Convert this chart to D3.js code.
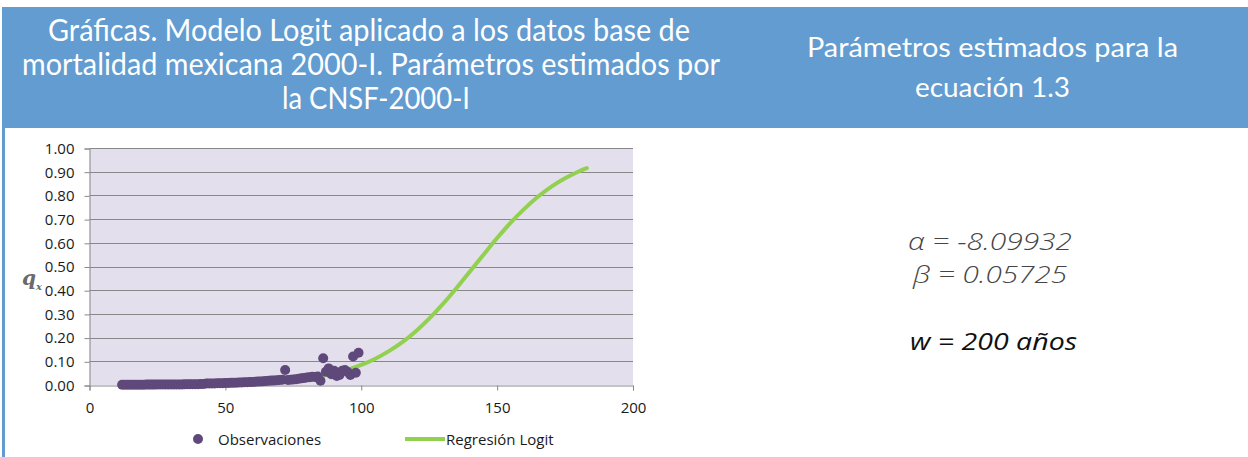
<!DOCTYPE html>
<html>
<head>
<meta charset="utf-8">
<script src="https://cdn.jsdelivr.net/npm/d3@7"></script>
<style>
  body { margin: 0; background: #fff; }
  svg { display: block; }
</style>
</head>
<body>
<div id="app"></div>
<script>
// edades observadas (12..99) y q_x observada
const obsAges = d3.range(12, 100);
const obsQx = [
  0.0008, 0.0008, 0.0009, 0.0010, 0.0011, 0.0012, 0.0013, 0.0014, 0.0015,
  0.0016, 0.0016, 0.0017, 0.0017, 0.0018, 0.0018, 0.0019, 0.0019, 0.0020,
  0.0021, 0.0022, 0.0023, 0.0024, 0.0025, 0.0027, 0.0028, 0.0030, 0.0032, 0.0034,
  0.0036, 0.0039, 0.0042, 0.0060, 0.0062, 0.0065, 0.0068, 0.0071, 0.0074, 0.0078,
  0.0082, 0.0086, 0.0090, 0.0094, 0.0098, 0.0103, 0.0108, 0.0113, 0.0119, 0.0125,
  0.0131, 0.0138, 0.0145, 0.0152, 0.0160, 0.0168, 0.0176, 0.0185, 0.0194, 0.0203,
  0.0212, 0.0220, 0.0630, 0.0215, 0.0225, 0.0235, 0.0245, 0.0260, 0.0280, 0.0300,
  0.0320, 0.0330, 0.0350, 0.0340, 0.0360, 0.0180, 0.1130, 0.0560, 0.0700, 0.0450,
  0.0600, 0.0380, 0.0420, 0.0600, 0.0630, 0.0550, 0.0420, 0.1200, 0.0520, 0.1360
];

// curva logit
const fitAges = [12, 20, 30, 40, 50, 60, 70, 80, 85, 90, 95, 100, 105, 110, 115, 120,
  125, 130, 135, 140, 145, 150, 155, 160, 165, 170, 175, 180, 183];
const fitQx = [0.0006, 0.001, 0.0017, 0.003, 0.0053, 0.0093, 0.0164, 0.029, 0.038, 0.050,
  0.065, 0.085, 0.110, 0.142, 0.180, 0.226, 0.280, 0.341, 0.408, 0.479, 0.550, 0.620,
  0.685, 0.743, 0.794, 0.837, 0.872, 0.901, 0.915];

const xTicks = [0, 50, 100, 150, 200];
const yTicks = d3.range(0, 1.0001, 0.1);

const titleLeft = [
  "Gráficas.  Modelo Logit aplicado a los datos base de",
  "mortalidad mexicana 2000-I. Parámetros estimados por",
  "la CNSF-2000-I"
];
const titleRight = ["Parámetros estimados para la", "ecuación 1.3"];
const paramLines = ["α = -8.09932", "β = 0.05725", "w = 200 años"];

const W = 1248, H = 457;
const svg = d3.select("#app").append("svg")
  .attr("width", W)
  .attr("height", H);

// cabecera azul
svg.append("rect")
  .attr("x", 2).attr("y", 7)
  .attr("width", W - 2).attr("height", 121)
  .attr("fill", "#629cd0");
svg.append("rect")
  .attr("x", 2).attr("y", 7)
  .attr("width", 3).attr("height", H - 7)
  .attr("fill", "#629cd0");

const leftPos = [[48, 41, 642], [22, 75, 698], [282, 109, 188]];
titleLeft.forEach((t, i) => {
  svg.append("text")
    .attr("x", leftPos[i][0]).attr("y", leftPos[i][1])
    .attr("textLength", leftPos[i][2])
    .attr("lengthAdjust", "spacingAndGlyphs")
    .attr("fill", "#fff")
    .style("font-family", "Lato, sans-serif")
    .style("font-weight", 400)
    .style("font-size", "30px")
    .text(t);
});
const rightPos = [[807, 57, 371], [915, 97, 155]];
titleRight.forEach((t, i) => {
  svg.append("text")
    .attr("x", rightPos[i][0]).attr("y", rightPos[i][1])
    .attr("textLength", rightPos[i][2])
    .attr("lengthAdjust", "spacingAndGlyphs")
    .attr("fill", "#fff")
    .style("font-family", "Lato, sans-serif")
    .style("font-weight", 400)
    .style("font-size", "27px")
    .text(t);
});

// grafico
const x = d3.scaleLinear().domain([0, 200]).range([89.5, 633]);
const y = d3.scaleLinear().domain([0, 1]).range([385, 148]);
const grid = "#888888";

svg.append("rect")
  .attr("x", x(0)).attr("y", y(1))
  .attr("width", x(200) - x(0)).attr("height", y(0) - y(1))
  .attr("fill", "#e4dfec");

svg.append("g")
  .selectAll("line")
  .data(yTicks.slice(1))
  .enter().append("line")
  .attr("x1", x(0)).attr("x2", x(200))
  .attr("y1", d => Math.round(y(d)) + 0.5).attr("y2", d => Math.round(y(d)) + 0.5)
  .attr("stroke", grid);

const yAxis = svg.append("g")
  .attr("transform", `translate(${x(0)},0.5)`)
  .call(d3.axisLeft(y).tickValues(yTicks).tickFormat(d3.format(".2f")).tickSize(5).tickPadding(10));
const xAxis = svg.append("g")
  .attr("transform", `translate(0,${y(0) + 0.5})`)
  .call(d3.axisBottom(x).tickValues(xTicks).tickSize(5).tickPadding(12));

[yAxis, xAxis].forEach(a => {
  a.select(".domain").attr("stroke", grid);
  a.selectAll(".tick line").attr("stroke", grid);
  a.selectAll("text")
    .attr("fill", "#1a1a1a")
    .style("font-family", "'Open Sans', sans-serif")
    .style("font-size", "15px");
});

// curva
const line = d3.line()
  .x((d, i) => x(fitAges[i]))
  .y(d => y(d))
  .curve(d3.curveCatmullRom);
svg.append("path")
  .datum(fitQx)
  .attr("fill", "none")
  .attr("stroke", "#92d050")
  .attr("stroke-width", 4)
  .attr("stroke-linecap", "round")
  .attr("d", line);

// observaciones
svg.append("g")
  .selectAll("circle")
  .data(obsQx)
  .enter().append("circle")
  .attr("cx", (d, i) => x(obsAges[i]))
  .attr("cy", d => y(d))
  .attr("r", 5)
  .attr("fill", "#5f497a");

// etiqueta eje y
const ql = svg.append("text")
  .attr("x", 22).attr("y", 285)
  .attr("fill", "#6a6a6a")
  .style("font-family", "'DejaVu Serif', serif")
  .style("font-style", "italic")
  .style("font-weight", "bold")
  .style("font-size", "20px")
  .text("q");
ql.append("tspan")
  .attr("dy", 5)
  .style("font-size", "10px")
  .text("x");

// leyenda
svg.append("circle")
  .attr("cx", 198).attr("cy", 439).attr("r", 5)
  .attr("fill", "#5f497a");
svg.append("text")
  .attr("x", 218).attr("y", 445)
  .attr("fill", "#1a1a1a")
  .style("font-family", "'Open Sans', sans-serif")
  .style("font-size", "15px")
  .text("Observaciones");
svg.append("line")
  .attr("x1", 405).attr("x2", 445)
  .attr("y1", 439).attr("y2", 439)
  .attr("stroke", "#92d050").attr("stroke-width", 4);
svg.append("text")
  .attr("x", 446).attr("y", 445)
  .attr("fill", "#1a1a1a")
  .style("font-family", "'Open Sans', sans-serif")
  .style("font-size", "15px")
  .text("Regresión Logit");

// parametros
const paramPos = [[908, 250, 164, "#444", 300], [913, 283, 154, "#444", 300], [910, 350, 167, "#111", 400]];
paramLines.forEach((t, i) => {
  const p = paramPos[i];
  svg.append("text")
    .attr("x", p[0]).attr("y", p[1])
    .attr("textLength", p[2])
    .attr("lengthAdjust", "spacingAndGlyphs")
    .attr("fill", p[3])
    .style("font-family", "'Open Sans', sans-serif")
    .style("font-style", "italic")
    .style("font-weight", p[4])
    .style("font-size", "24px")
    .text(t);
});
</script>
</body>
</html>
